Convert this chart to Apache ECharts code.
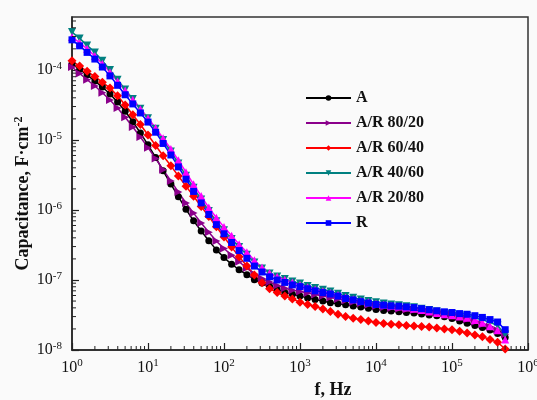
<!DOCTYPE html>
<html>
<head>
<meta charset="utf-8">
<script src="https://cdn.jsdelivr.net/npm/echarts@6/dist/echarts.min.js"></script>
<style>html,body{margin:0;padding:0;background:#fafafa}#c{width:537px;height:400px}</style>
</head>
<body>
<div id="c"></div>
<script>
const freq = [1,1.26,1.58,2,2.51,3.16,3.98,5.01,6.31,7.94,
10,12.6,15.8,20,25.1,31.6,39.8,50.1,63.1,79.4,
100,126,158,200,251,316,398,501,631,794,
1000,1260,1580,2000,2510,3160,3980,5010,6310,7940,
10000,12600,15800,20000,25100,31600,39800,50100,63100,79400,
100000,126000,158000,200000,251000,316000,398000,501000];

const capA = [1.23e-4,1.02e-4,8.51e-5,6.92e-5,5.69e-5,4.52e-5,3.47e-5,2.57e-5,1.82e-5,1.26e-5,
8.51e-6,5.62e-6,3.63e-6,2.34e-6,1.55e-6,1.02e-6,7.00e-7,5.01e-7,3.63e-7,2.69e-7,
2.09e-7,1.68e-7,1.40e-7,1.19e-7,1.01e-7,9.04e-8,8.09e-8,7.24e-8,6.61e-8,6.24e-8,
5.89e-8,5.55e-8,5.26e-8,5.01e-8,4.74e-8,4.57e-8,4.43e-8,4.26e-8,4.10e-8,3.94e-8,
3.80e-8,3.68e-8,3.61e-8,3.52e-8,3.44e-8,3.37e-8,3.27e-8,3.17e-8,3.08e-8,2.99e-8,
2.82e-8,2.60e-8,2.41e-8,2.24e-8,2.09e-8,1.93e-8,1.72e-8,1.51e-8];

const capAR8020 = [1.10e-4,8.91e-5,7.24e-5,5.89e-5,4.73e-5,3.72e-5,2.85e-5,2.11e-5,1.53e-5,1.10e-5,
7.76e-6,5.43e-6,3.76e-6,2.60e-6,1.80e-6,1.26e-6,9.02e-7,6.53e-7,4.79e-7,3.59e-7,
2.82e-7,2.26e-7,1.82e-7,1.48e-7,1.22e-7,1.05e-7,9.33e-8,8.32e-8,7.59e-8,7.16e-8,
6.84e-8,6.53e-8,6.21e-8,5.90e-8,5.60e-8,5.33e-8,5.09e-8,4.86e-8,4.65e-8,4.44e-8,
4.24e-8,4.07e-8,3.98e-8,3.89e-8,3.80e-8,3.72e-8,3.64e-8,3.56e-8,3.48e-8,3.40e-8,
3.24e-8,2.99e-8,2.75e-8,2.51e-8,2.32e-8,2.14e-8,1.91e-8,1.68e-8];

const capAR6040 = [1.35e-4,1.135e-4,9.55e-5,8.04e-5,6.68e-5,5.50e-5,4.27e-5,3.16e-5,2.29e-5,1.66e-5,
1.175e-5,8.32e-6,5.96e-6,4.27e-6,3.05e-6,2.19e-6,1.57e-6,1.12e-6,8.04e-7,5.75e-7,
4.12e-7,2.95e-7,2.14e-7,1.58e-7,1.175e-7,9.12e-8,7.50e-8,6.61e-8,5.89e-8,5.37e-8,
4.79e-8,4.47e-8,4.17e-8,3.85e-8,3.55e-8,3.24e-8,3.02e-8,2.85e-8,2.72e-8,2.60e-8,
2.48e-8,2.40e-8,2.34e-8,2.29e-8,2.24e-8,2.20e-8,2.16e-8,2.13e-8,2.07e-8,2.00e-8,
1.94e-8,1.85e-8,1.75e-8,1.64e-8,1.55e-8,1.41e-8,1.29e-8,1.035e-8];

const capAR4060 = [3.47e-4,2.82e-4,2.24e-4,1.78e-4,1.35e-4,1.00e-4,7.24e-5,5.25e-5,3.85e-5,2.79e-5,
2.04e-5,1.45e-5,1.00e-5,6.84e-6,4.62e-6,3.09e-6,2.07e-6,1.41e-6,9.66e-7,6.92e-7,
5.13e-7,3.85e-7,2.95e-7,2.29e-7,1.78e-7,1.46e-7,1.24e-7,1.12e-7,1.035e-7,9.55e-8,
8.91e-8,8.22e-8,7.67e-8,7.24e-8,6.84e-8,6.38e-8,5.89e-8,5.56e-8,5.25e-8,5.01e-8,
4.79e-8,4.62e-8,4.47e-8,4.37e-8,4.22e-8,4.07e-8,3.89e-8,3.72e-8,3.55e-8,3.39e-8,
3.27e-8,3.16e-8,3.05e-8,2.88e-8,2.69e-8,2.48e-8,2.24e-8,1.66e-8];

const capAR2080 = [2.95e-4,2.45e-4,2.00e-4,1.58e-4,1.23e-4,9.23e-5,6.84e-5,5.07e-5,3.76e-5,2.75e-5,
2.04e-5,1.48e-5,1.06e-5,7.41e-6,5.13e-6,3.47e-6,2.32e-6,1.58e-6,1.08e-6,7.76e-7,
5.69e-7,4.27e-7,3.24e-7,2.48e-7,1.91e-7,1.51e-7,1.26e-7,1.11e-7,1.01e-7,9.23e-8,
8.51e-8,7.85e-8,7.33e-8,6.92e-8,6.53e-8,6.10e-8,5.62e-8,5.31e-8,5.01e-8,4.79e-8,
4.57e-8,4.42e-8,4.27e-8,4.17e-8,4.03e-8,3.89e-8,3.72e-8,3.55e-8,3.39e-8,3.24e-8,
3.13e-8,3.02e-8,2.88e-8,2.69e-8,2.45e-8,2.19e-8,1.91e-8,1.41e-8];

const capR = [2.69e-4,2.21e-4,1.78e-4,1.43e-4,1.10e-4,8.22e-5,6.03e-5,4.42e-5,3.27e-5,2.43e-5,
1.80e-5,1.29e-5,8.91e-6,6.10e-6,4.12e-6,2.75e-6,1.84e-6,1.26e-6,8.61e-7,6.17e-7,
4.57e-7,3.43e-7,2.63e-7,2.04e-7,1.58e-7,1.30e-7,1.11e-7,1.00e-7,9.23e-8,8.51e-8,
8.04e-8,7.50e-8,7.00e-8,6.61e-8,6.31e-8,5.89e-8,5.43e-8,5.19e-8,4.90e-8,4.68e-8,
4.47e-8,4.37e-8,4.27e-8,4.22e-8,4.12e-8,4.03e-8,3.89e-8,3.76e-8,3.63e-8,3.51e-8,
3.43e-8,3.31e-8,3.24e-8,3.09e-8,2.92e-8,2.72e-8,2.51e-8,1.95e-8];

const seriesNames = ['A', 'A/R 80/20', 'A/R 60/40', 'A/R 40/60', 'A/R 20/80', 'R'];

const xTickValues = [1, 10, 100, 1000, 10000, 100000, 1000000];
const xTickLabels = ['10{sup|0}', '10{sup|1}', '10{sup|2}', '10{sup|3}', '10{sup|4}', '10{sup|5}', '10{sup|6}'];
const yTickValues = [1e-8, 1e-7, 1e-6, 1e-5, 1e-4];
const yTickLabels = ['10{sup|-8}', '10{sup|-7}', '10{sup|-6}', '10{sup|-5}', '10{sup|-4}'];

const X_MIN = 1, X_MAX = 1e6, Y_MIN = 1e-8, Y_MAX = 5.7e-4;
const FONT = '"Liberation Serif", "DejaVu Serif", serif';

function lookup(vals, labels) {
  return function (v) {
    for (let i = 0; i < vals.length; i++) {
      if (Math.abs(v / vals[i] - 1) < 1e-6) return labels[i];
    }
    return '';
  };
}

function pairs(ys) { return freq.map((f, i) => [f, ys[i]]); }

const supStyle = { fontSize: 11, fontFamily: FONT, color: '#111', verticalAlign: 'bottom', padding: [0, 0, 8, 0] };

const styles = [
  { color: '#000000', symbol: 'circle', size: 7, rotate: 0 },
  { color: '#8b008b', symbol: 'triangle', size: 8, rotate: -90 },
  { color: '#ff0000', symbol: 'diamond', size: 9, rotate: 0 },
  { color: '#008080', symbol: 'triangle', size: 8, rotate: 180 },
  { color: '#ff00ff', symbol: 'triangle', size: 8, rotate: 0 },
  { color: '#0000ff', symbol: 'rect', size: 7, rotate: 0 }
];
const dataSets = [capA, capAR8020, capAR6040, capAR4060, capAR2080, capR];

const series = seriesNames.map((n, i) => ({
  name: n,
  type: 'line',
  data: pairs(dataSets[i]),
  symbol: styles[i].symbol,
  symbolSize: styles[i].size,
  symbolRotate: styles[i].rotate,
  showSymbol: true,
  color: styles[i].color,
  itemStyle: { color: styles[i].color },
  lineStyle: { color: styles[i].color, width: 1.5 },
  emphasis: { disabled: true }
}));

series.push({
  type: 'custom',
  name: 'minor-ticks',
  silent: true,
  z: 20,
  data: [[X_MIN, Y_MIN]],
  renderItem: function (params, api) {
    const children = [];
    for (let d = 1; d < X_MAX; d *= 10) {
      for (let m = 2; m <= 9; m++) {
        const p = api.coord([m * d, Y_MIN]);
        children.push({ type: 'line', shape: { x1: p[0], y1: p[1], x2: p[0], y2: p[1] - 4 }, style: { stroke: '#222', lineWidth: 1 } });
      }
    }
    for (let d = Y_MIN; d < Y_MAX; d *= 10) {
      for (let m = 2; m <= 9; m++) {
        if (m * d > Y_MAX) break;
        const p = api.coord([X_MIN, m * d]);
        children.push({ type: 'line', shape: { x1: p[0], y1: p[1], x2: p[0] + 4, y2: p[1] }, style: { stroke: '#222', lineWidth: 1 } });
      }
    }
    return { type: 'group', children: children };
  }
});

const chart = echarts.init(document.getElementById('c'), null, { renderer: 'canvas' });
chart.setOption({
  backgroundColor: '#fafafa',
  animation: false,
  grid: { left: 72, right: 9, top: 17, bottom: 50, show: true, borderColor: '#333', borderWidth: 1.5, backgroundColor: 'transparent', containLabel: false, outerBoundsMode: 'none' },
  legend: {
    data: seriesNames,
    orient: 'vertical',
    left: 300,
    top: 85,
    itemWidth: 45,
    itemHeight: 7,
    itemGap: 9,
    selectedMode: false,
    textStyle: { fontFamily: FONT, fontWeight: 'bold', fontSize: 16, color: '#111', lineHeight: 16 }
  },
  xAxis: {
    type: 'log', logBase: 10, min: X_MIN, max: X_MAX,
    axisLine: { show: true, lineStyle: { color: '#222', width: 1.5 } },
    axisTick: { show: true, inside: true, length: 7, lineStyle: { color: '#222', width: 1.2 } },
    splitLine: { show: false },
    axisLabel: { formatter: lookup(xTickValues, xTickLabels), fontFamily: FONT, fontSize: 16, color: '#111', margin: 8, rich: { sup: supStyle } },
    name: 'f, Hz', nameLocation: 'middle', nameGap: 31, nameMoveOverlap: false,
    nameTextStyle: { fontFamily: FONT, fontWeight: 'bold', fontSize: 18, color: '#111', padding: [0, 0, 0, 66] }
  },
  yAxis: {
    type: 'log', logBase: 10, min: Y_MIN, max: Y_MAX,
    axisLine: { show: true, lineStyle: { color: '#222', width: 1.5 } },
    axisTick: { show: true, inside: true, length: 7, lineStyle: { color: '#222', width: 1.2 } },
    splitLine: { show: false },
    axisLabel: { formatter: lookup(yTickValues, yTickLabels), showMaxLabel: false, fontFamily: FONT, fontSize: 16, color: '#111', margin: 10, rich: { sup: supStyle } },
    name: 'Capacitance, F·cm{sup|-2}', nameLocation: 'middle', nameGap: 38, nameMoveOverlap: false,
    nameTextStyle: { fontFamily: FONT, fontWeight: 'bold', fontSize: 18, color: '#111', padding: [0, 20, 0, 0],
      rich: { sup: { fontSize: 12, fontFamily: FONT, fontWeight: 'bold', color: '#111', verticalAlign: 'bottom', padding: [0, 0, 9, 0] } } }
  },
  series: series
});
</script>
</body>
</html>
